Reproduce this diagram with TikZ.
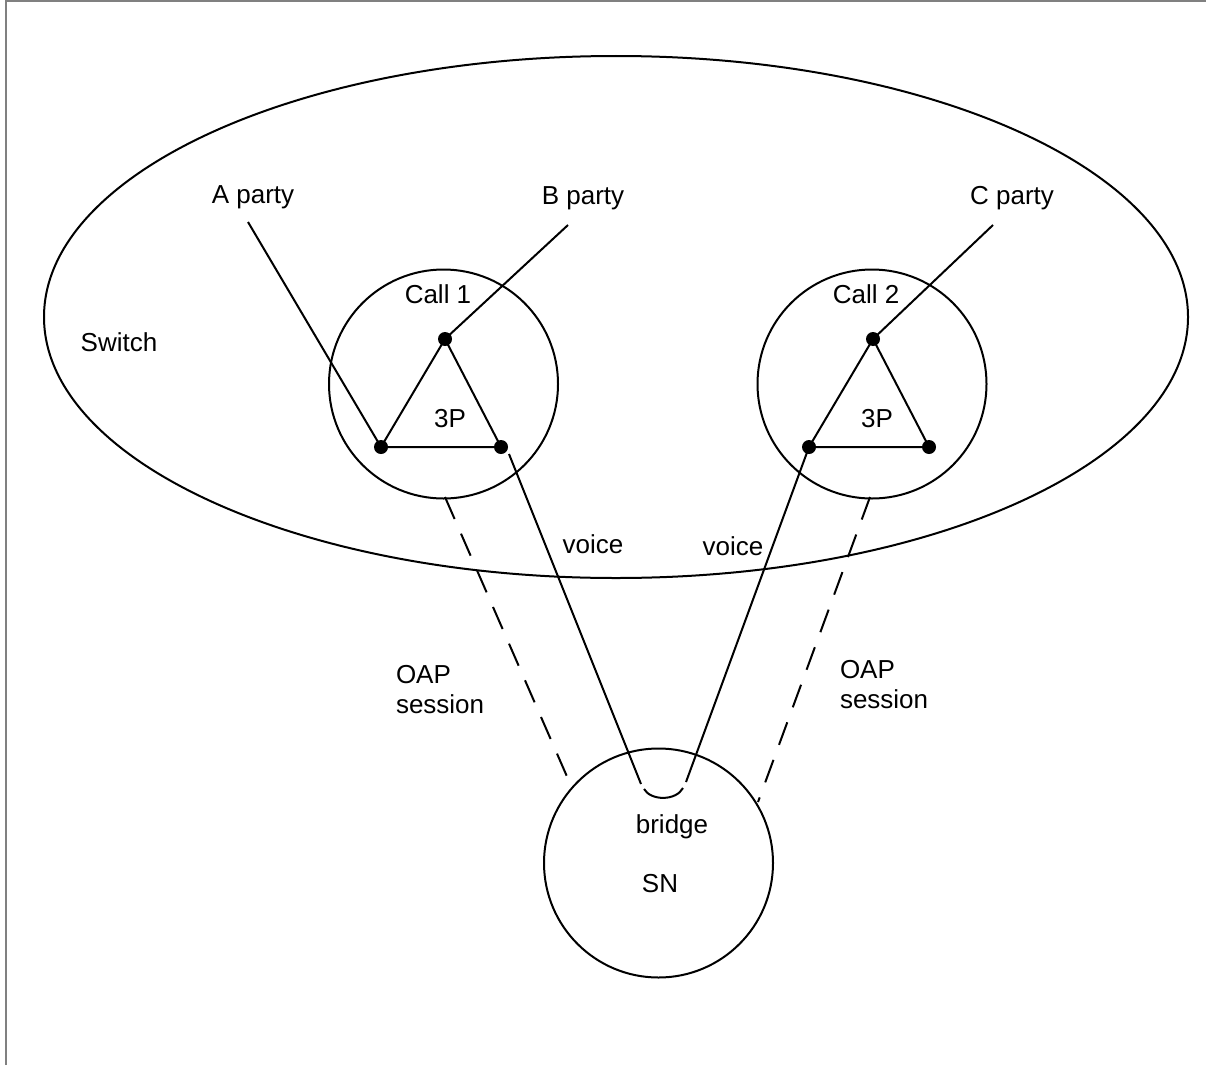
\documentclass[tikz,border=0pt]{standalone}
\usepackage{fontspec}
\setmainfont{Liberation Sans}
\usetikzlibrary{shapes.geometric}
\begin{document}
\begin{tikzpicture}[x=1pt,y=-1pt,line width=2pt,
  lbl/.style={font=\fontsize{26}{30}\selectfont,inner sep=0pt,anchor=base},
  lblw/.style={font=\fontsize{26}{30}\selectfont,inner sep=0pt,anchor=base west,align=left},
  dot/.style={circle,fill=black,draw=none,inner sep=0pt,minimum size=14pt},
  ring/.style={circle,draw,inner sep=0pt,minimum size=229pt},
  oval/.style={ellipse,draw,inner sep=0pt,minimum width=1144pt,minimum height=522pt},
  dashline/.style={dash pattern=on 24pt off 16pt},
  frame/.style={draw=gray,line width=2pt}]
\useasboundingbox (0,0) rectangle (1206,1065);
\draw[frame] (5.5,1065) -- (5.5,1.5) -- (1206,1.5);

% switch
\node[oval] (switch) at (616,317) {};
\node[lbl] (switchlbl) at (119,351) {Switch};

% calls
\node[ring] (call1) at (443.5,384) {};
\node[ring] (call2) at (872,384) {};
\node[lbl] (call1lbl) at (438,303) {Call 1};
\node[lbl] (call2lbl) at (866,303) {Call 2};

% triangle 1
\node[dot] (t1) at (445,339) {};
\node[dot] (l1) at (381,447) {};
\node[dot] (r1) at (501,447) {};
\draw (t1.center) -- (l1.center) -- (r1.center) -- cycle;
\node[lbl] (p1) at (450,427) {3P};

% triangle 2
\node[dot] (t2) at (873,339) {};
\node[dot] (l2) at (809,447) {};
\node[dot] (r2) at (929,447) {};
\draw (t2.center) -- (l2.center) -- (r2.center) -- cycle;
\node[lbl] (p2) at (877,427) {3P};

% parties
\node[lbl] (a) at (253,203) {A party};
\node[lbl] (b) at (583,204) {B party};
\node[lbl] (c) at (1012,204) {C party};
\coordinate (aend) at (248,222);
\coordinate (bend) at (568,225);
\coordinate (cend) at (993,225);
\draw (aend) -- (l1.center);
\draw (bend) -- (t1.center);
\draw (cend) -- (t2.center);

% SN
\node[ring] (sn) at (658.5,863) {};
\node[lbl] (bridge) at (672,833) {bridge};
\node[lbl] (snlbl) at (660,892) {SN};

% voice
\coordinate (v1s) at (509,454);
\coordinate (v1e) at (641,784);
\coordinate (v2e) at (686,782);
\coordinate (ua) at (644,789);
\coordinate (ub) at (683,788);
\draw (v1s) -- (v1e);
\draw (l2.center) -- (v2e);
\draw (ua) .. controls (651,801) and (676,801) .. (ub);
\node[lbl] (voice1) at (593,553) {voice};
\node[lbl] (voice2) at (733,555) {voice};

% OAP sessions
\coordinate (d1s) at (445,497);
\coordinate (d1e) at (572,788);
\coordinate (d2s) at (870,497);
\coordinate (d2e) at (758,802);
\draw[dashline] (d1s) -- (d1e);
\draw[dashline] (d2s) -- (d2e);
\node[lblw] (oap1) at (395,713) {OAP\\session};
\node[lblw] (oap2) at (839,708) {OAP\\session};
\end{tikzpicture}
\end{document}
